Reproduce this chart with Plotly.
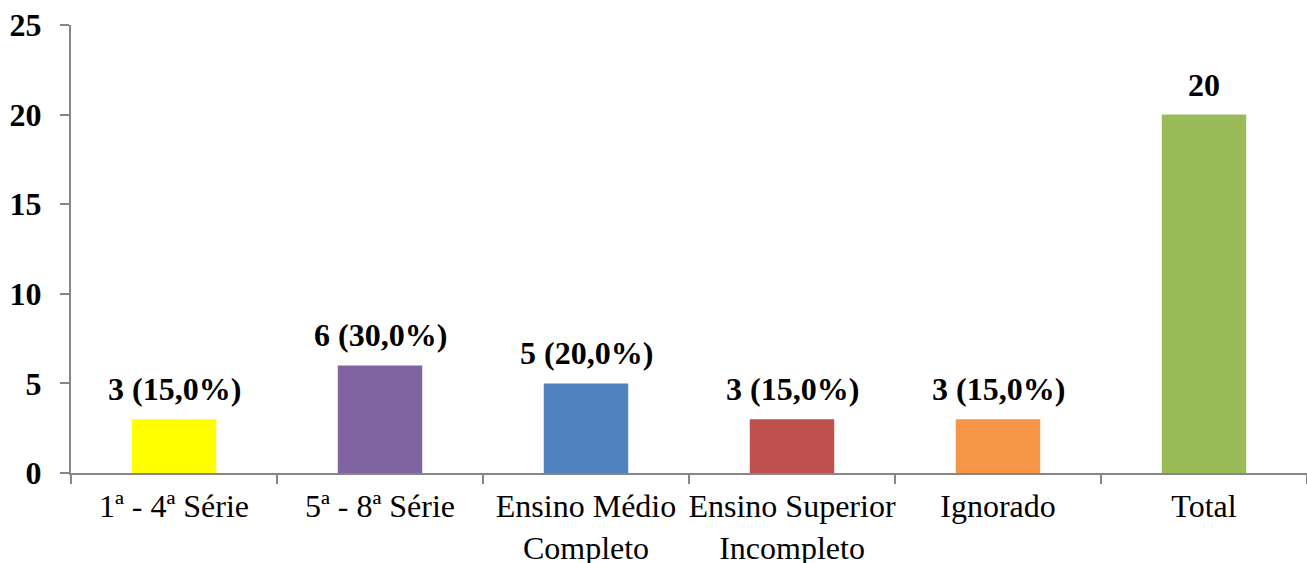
import plotly.graph_objects as go

categories = ["1ª - 4ª Série", "5ª - 8ª Série", "Ensino Médio<br>Completo",
              "Ensino Superior<br>Incompleto", "Ignorado", "Total"]
values = [3, 6, 5, 3, 3, 20]
labels = ["3 (15,0%)", "6 (30,0%)", "5 (20,0%)", "3 (15,0%)", "3 (15,0%)", "20"]
colors = ["#FFFF00", "#8064A2", "#4F81BD", "#C0504D", "#F79646", "#9BBB59"]
y_ticks = [0, 5, 10, 15, 20, 25]

font_family = "Liberation Serif"
FS = 32

fig = go.Figure(go.Bar(
    x=categories, y=values,
    marker=dict(color=colors, line=dict(width=0)),
    width=0.41, cliponaxis=False,
))

for c, v, t in zip(categories, values, labels):
    fig.add_annotation(
        x=c, y=v, text=f"<b>{t}</b>", showarrow=False,
        xanchor="center", yanchor="bottom", yshift=10,
        font=dict(family=font_family, size=FS, color="black"),
    )

fig.update_layout(
    width=1307, height=563,
    margin=dict(l=71, r=0, t=25, b=90, autoexpand=False),
    plot_bgcolor="white", paper_bgcolor="white",
    showlegend=False,
    font=dict(family=font_family, color="black"),
)
fig.update_xaxes(
    type="category", tickson="boundaries", ticks="outside", ticklen=9,
    tickcolor="#868686", tickwidth=2, tickangle=0, automargin=False,
    showline=True, linecolor="#868686", linewidth=2,
    tickfont=dict(family=font_family, size=FS, color="black"),
    ticklabelstandoff=4,
    showgrid=False,
)
fig.update_yaxes(
    range=[0, 25], tickvals=y_ticks, ticks="outside", ticklen=9,
    tickcolor="#868686", tickwidth=2, automargin=False,
    showline=True, linecolor="#868686", linewidth=2,
    tickfont=dict(family=font_family, size=FS, color="black", weight="bold"),
    ticklabelstandoff=12,
    showgrid=False, zeroline=False,
)

fig.write_html("out.html")
